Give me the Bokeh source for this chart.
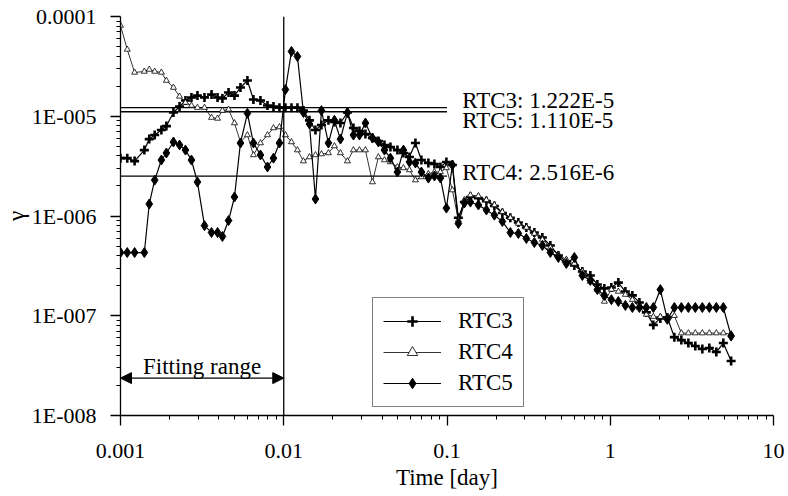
from bokeh.plotting import figure
from bokeh.models import (FixedTicker, CustomJSTickFormatter, Range1d, Span, Arrow,
                          NormalHead, Label, Legend, LegendItem)
from bokeh.embed import file_html
from bokeh.resources import INLINE

# ---------------- data ----------------
time_day = [0.001, 0.0011, 0.00122, 0.0014, 0.0015, 0.00162, 0.00178, 0.00191, 0.00211, 0.0023,
            0.0025, 0.00272, 0.00296, 0.00327, 0.00361, 0.00393, 0.00421, 0.00459, 0.00499, 0.00543,
            0.00599, 0.00652, 0.0072, 0.00795, 0.00865, 0.00941, 0.01024, 0.01115, 0.01213, 0.0132,
            0.01437, 0.01564, 0.01702, 0.01878, 0.02044, 0.02224, 0.02455, 0.02672, 0.02908, 0.03165,
            0.03493, 0.03801, 0.04138, 0.04503, 0.04969, 0.05408, 0.05886, 0.06406, 0.06971, 0.07692,
            0.08373, 0.09113, 0.09915, 0.1079, 0.1174, 0.1278, 0.1391, 0.1557, 0.1743, 0.1951,
            0.2184, 0.2444, 0.2736, 0.3063, 0.3429, 0.3839, 0.4297, 0.481, 0.5385, 0.6028,
            0.6748, 0.7553, 0.8337, 0.9203, 1.016, 1.121, 1.238, 1.366, 1.508, 1.664,
            1.837, 2.027, 2.238, 2.47, 2.726, 3.009, 3.32, 3.665, 4.045, 4.465,
            4.928, 5.5]

rtc3 = [3.8e-6, 3.8e-6, 3.55e-6, 4.58e-6, 5.9e-6, 6.48e-6, 7.27e-6, 7.97e-6, 1.09e-5, 1.25e-5,
        1.44e-5, 1.54e-5, 1.61e-5, 1.54e-5, 1.65e-5, 1.54e-5, 1.51e-5, 1.73e-5, 1.61e-5, 1.94e-5,
        2.28e-5, 1.47e-5, 1.44e-5, 1.28e-5, 1.25e-5, 1.22e-5, 1.22e-5, 1.22e-5, 1.22e-5, 1.14e-5,
        9.1e-6, 7.27e-6, 8.17e-6, 9.1e-6, 8.76e-6, 8.55e-6, 1.09e-5, 7.62e-6, 7.11e-6, 6.64e-6,
        6.05e-6, 5.65e-6, 5.15e-6, 4.92e-6, 4.58e-6, 4.28e-6, 3.9e-6, 5.39e-6, 3.64e-6, 3.4e-6,
        3.32e-6, 3.1e-6, 3.48e-6, 3.24e-6, 9.6e-7, 1.38e-6, 1.55e-6, 1.51e-6, 1.41e-6, 1.26e-6,
        1.07e-6, 9.6e-7, 8.6e-7, 7.67e-7, 6.83e-7, 6.09e-7, 5.06e-7, 4.02e-7, 3.5e-7, 3.19e-7,
        2.78e-7, 2.53e-7, 2.06e-7, 1.88e-7, 1.92e-7, 2.15e-7, 1.75e-7, 1.6e-7, 1.36e-7, 1.08e-7,
        8.1e-8, 9.4e-8, 9.6e-8, 6.1e-8, 5.7e-8, 5.33e-8, 4.97e-8, 4.64e-8, 4.75e-8, 4.33e-8,
        5.33e-8, 3.52e-8]

rtc4 = [8.12e-5, 4.67e-5, 2.75e-5, 2.81e-5, 2.94e-5, 2.81e-5, 2.75e-5, 2.28e-5, 1.94e-5, 1.58e-5,
        1.37e-5, 1.28e-5, 1.22e-5, 1.22e-5, 9.7e-6, 9.5e-6, 1.14e-5, 1.17e-5, 8.55e-6, 5.52e-6,
        6.48e-6, 4.09e-6, 5.39e-6, 6.48e-6, 7.62e-6, 7.8e-6, 6.48e-6, 5.52e-6, 4.58e-6, 3.55e-6,
        3.9e-6, 4.09e-6, 4.18e-6, 4.28e-6, 5.03e-6, 4.28e-6, 3.55e-6, 4.58e-6, 4.58e-6, 4.58e-6,
        2.19e-6, 3.9e-6, 3.64e-6, 3.48e-6, 3.1e-6, 3.03e-6, 2.89e-6, 2.29e-6, 2.46e-6, 2.64e-6,
        2.76e-6, 2.76e-6, 3.03e-6, 1.82e-6, 9.1e-7, 1.45e-6, 1.62e-6, 1.59e-6, 1.45e-6, 1.29e-6,
        1.1e-6, 9.6e-7, 8.4e-7, 7.67e-7, 6.68e-7, 5.81e-7, 4.83e-7, 4.11e-7, 3.66e-7, 3.34e-7,
        2.78e-7, 2.2e-7, 1.83e-7, 1.39e-7, 1.83e-7, 1.75e-7, 1.63e-7, 1.45e-7, 1.21e-7, 1.03e-7,
        9.8e-8, 9.8e-8, 9.8e-8, 1.0e-7, 6.7e-8, 6.7e-8, 6.7e-8, 6.7e-8, 6.7e-8, 6.7e-8,
        6.7e-8, 6.56e-8]

rtc5 = [4.3e-7, 4.3e-7, 4.3e-7, 4.3e-7, 1.32e-6, 2.29e-6, 3.64e-6, 4.28e-6, 5.52e-6, 5.15e-6,
        4.58e-6, 3.64e-6, 2.19e-6, 8.0e-7, 6.83e-7, 6.83e-7, 6.23e-7, 9.0e-7, 1.55e-6, 5.39e-6,
        1.07e-5, 5.39e-6, 4.09e-6, 3.1e-6, 3.8e-6, 5.39e-6, 1.85e-5, 4.46e-5, 3.97e-5, 1.09e-5,
        8.36e-6, 1.48e-6, 1.14e-5, 5.39e-6, 9.1e-6, 5.9e-6, 1.09e-5, 6.48e-6, 6.48e-6, 8.55e-6,
        6.05e-6, 5.52e-6, 4.58e-6, 3.8e-6, 2.76e-6, 4.58e-6, 3.48e-6, 3.4e-6, 2.76e-6, 2.4e-6,
        2.52e-6, 2.4e-6, 1.2e-6, 3.24e-6, 8.4e-7, 1.35e-6, 1.38e-6, 1.29e-6, 1.15e-6, 1.02e-6,
        8.8e-7, 6.83e-7, 6.68e-7, 5.95e-7, 5.42e-7, 5.06e-7, 4.31e-7, 3.84e-7, 3.34e-7, 3.84e-7,
        2.53e-7, 2.26e-7, 1.83e-7, 1.6e-7, 1.45e-7, 1.39e-7, 1.27e-7, 1.21e-7, 1.21e-7, 1.21e-7,
        1.21e-7, 1.83e-7, 9.2e-8, 1.21e-7, 1.21e-7, 1.21e-7, 1.21e-7, 1.21e-7, 1.21e-7, 1.21e-7,
        1.21e-7, 6.25e-8]

fit_values = [1.222e-5, 1.110e-5, 2.516e-6]
fit_labels = ["RTC3: 1.222E-5", "RTC5: 1.110E-5", "RTC4: 2.516E-6"]
fit_label_y = [1.44e-5, 9.1e-6, 2.76e-6]
fit_start, fit_end = 0.001, 0.1
fit_range_end = 0.01

xtick_vals = [0.001, 0.01, 0.1, 1, 10]
xtick_labels = ["0.001", "0.01", "0.1", "1", "10"]
ytick_vals = [1e-8, 1e-7, 1e-6, 1e-5, 1e-4]
ytick_labels = ["1E-008", "1E-007", "1E-006", "1E-005", "0.0001"]

FONT = "Liberation Serif"

p = figure(width=788, height=496, x_axis_type="log", y_axis_type="log",
           x_range=Range1d(0.001, 10), y_range=Range1d(1e-8, 1e-4),
           output_backend="svg", toolbar_location=None,
           min_border_left=120, min_border_right=15, min_border_top=16, min_border_bottom=81)
p.outline_line_color = None
p.xgrid.grid_line_color = None
p.ygrid.grid_line_color = None
p.background_fill_color = "white"

xminor = [m * 10.0 ** e for e in range(-3, 1) for m in range(2, 10)]
yminor = [m * 10.0 ** e for e in range(-8, -4) for m in range(2, 10)]
p.xaxis.ticker = FixedTicker(ticks=xtick_vals, minor_ticks=xminor)
p.yaxis.ticker = FixedTicker(ticks=ytick_vals, minor_ticks=yminor)
fmt_code = """
for (let i = 0; i < vals.length; i++) {
  if (Math.abs(Math.log10(tick) - Math.log10(vals[i])) < 1e-6) return labs[i];
}
return '';
"""
p.xaxis.formatter = CustomJSTickFormatter(args=dict(vals=xtick_vals, labs=xtick_labels), code=fmt_code)
p.yaxis.formatter = CustomJSTickFormatter(args=dict(vals=ytick_vals, labs=ytick_labels), code=fmt_code)

for ax in (p.xaxis[0], p.yaxis[0]):
    ax.axis_line_color = "black"
    ax.axis_line_width = 1.3
    ax.major_tick_line_color = "black"
    ax.major_tick_line_width = 1.3
    ax.minor_tick_line_color = "black"
    ax.major_tick_out = 10
    ax.major_tick_in = 0
    ax.minor_tick_out = 4
    ax.minor_tick_in = 0
    ax.major_label_text_font = FONT
    ax.major_label_text_font_size = "22px"
    ax.major_label_text_color = "black"
    ax.axis_label_text_font = FONT
    ax.axis_label_text_font_size = "23px"
    ax.axis_label_text_font_style = "normal"
    ax.axis_label_text_color = "black"
    ax.axis_label_text_line_height = 0.7

p.xaxis.axis_label = "Time [day]"
p.yaxis.axis_label = "γ"
p.xaxis.major_label_standoff = 18
p.xaxis.major_label_text_line_height = 0.8
p.yaxis.major_label_standoff = 14
p.xaxis.axis_label_standoff = 4
p.yaxis.axis_label_standoff = 0
p.yaxis.axis_label_text_baseline = "top"

# fitted level lines
p.segment(x0=[fit_start] * 3, x1=[fit_end] * 3, y0=fit_values, y1=fit_values,
          line_color="black", line_width=1.3)
for lab, yy in zip(fit_labels, fit_label_y):
    p.add_layout(Label(x=0.124, y=yy, text=lab, text_font=FONT, text_font_size="23px",
                       text_baseline="middle", text_align="left", text_color="black"))

# fitting range marker
p.add_layout(Span(location=fit_range_end, dimension="height", line_color="black", line_width=1.3))
p.add_layout(Arrow(start=NormalHead(size=11, fill_color="black", line_color="black"),
                   end=NormalHead(size=11, fill_color="black", line_color="black"),
                   x_start=fit_start, x_end=fit_range_end, y_start=2.37e-8, y_end=2.37e-8,
                   line_color="black", line_width=1.3))
p.add_layout(Label(x=0.00316, y=3.1e-8, text="Fitting range", text_font=FONT,
                   text_font_size="23px", text_align="center", text_baseline="middle",
                   text_color="black"))

# series
l3 = p.line(time_day, rtc3, line_color="black", line_width=1.2)
s3 = p.scatter(time_day, rtc3, marker="cross", size=9, line_color="black", line_width=2.6)
l4 = p.line(time_day, rtc4, line_color="black", line_width=0.8)
s4 = p.scatter(time_day, rtc4, marker="triangle", size=6, line_color="black", line_width=0.8,
               fill_color="white")
l5 = p.line(time_day, rtc5, line_color="black", line_width=1.2)
s5 = p.scatter(time_day, rtc5, marker="diamond", size=10, line_color="black", fill_color="black")

legend = Legend(items=[LegendItem(label="RTC3", renderers=[l3, s3]),
                       LegendItem(label="RTC4", renderers=[l4, s4]),
                       LegendItem(label="RTC5", renderers=[l5, s5])],
                location=(252, 8), orientation="vertical",
                glyph_width=58, glyph_height=26, label_height=26, label_standoff=17,
                spacing=5, padding=10, margin=0,
                label_text_font=FONT, label_text_font_size="23px", label_text_color="black",
                border_line_color="black", border_line_width=1.5,
                background_fill_color="white", background_fill_alpha=1.0)
p.add_layout(legend)

open("out.html", "w").write(file_html(p, INLINE))
